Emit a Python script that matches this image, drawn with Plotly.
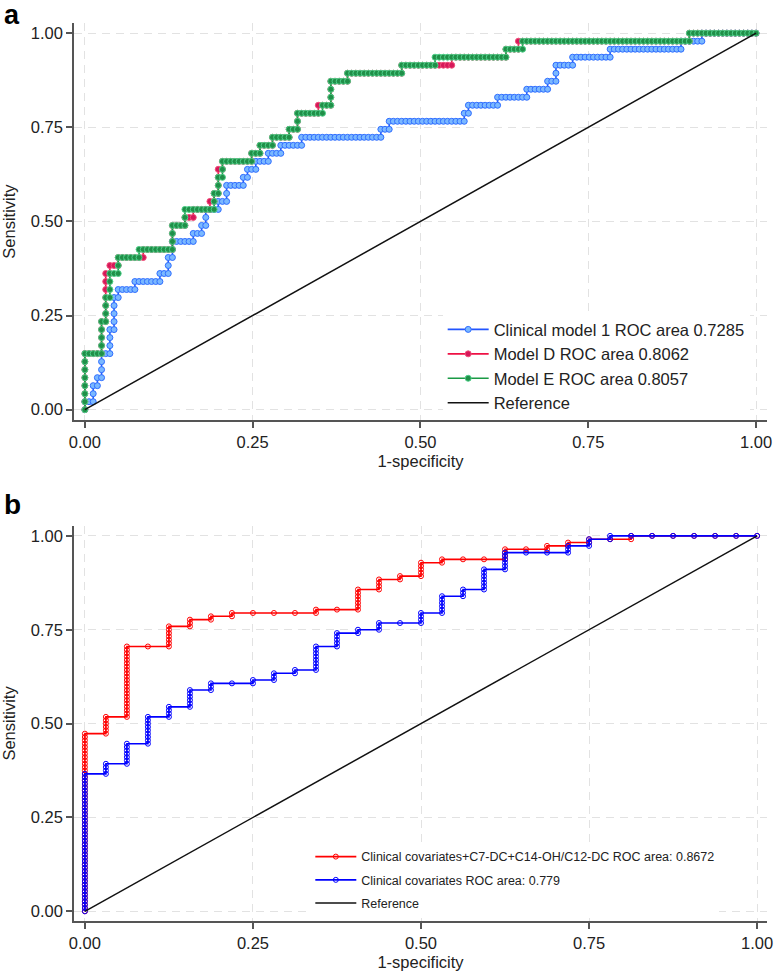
import plotly.graph_objects as go
from plotly.subplots import make_subplots

# ---------------- DATA ----------------
# ROC curves.
# Each curve = list of step points: at false-positive count FP[i] the curve
# rises to true-positive count TP[i] (counts of controls / cases).
A_N_CONTROLS = 161
A_N_CASES = 47

A_CLIN1_FP = [0, 2, 3, 4, 6, 7, 8, 12, 18, 20, 21, 26, 28, 29, 32, 34, 38, 39, 41, 44, 47, 52, 71, 73, 91, 92, 99, 106, 111, 113, 117, 126, 143, 148]
A_CLIN1_TP = [1, 3, 4, 7, 10, 14, 15, 16, 17, 19, 21, 22, 23, 25, 26, 28, 29, 30, 31, 32, 33, 34, 35, 36, 37, 38, 39, 40, 41, 43, 44, 45, 46, 47]

A_MODD_FP = [0, 4, 5, 6, 8, 14, 21, 24, 26, 30, 31, 32, 33, 40, 42, 45, 49, 51, 56, 59, 63, 76, 88, 101, 104, 145]
A_MODD_TP = [7, 11, 17, 18, 19, 20, 23, 24, 25, 26, 27, 30, 31, 32, 33, 34, 35, 37, 38, 41, 42, 43, 44, 45, 46, 47]

A_MODE_FP = [0, 4, 5, 6, 8, 13, 21, 24, 31, 32, 33, 40, 42, 45, 49, 51, 57, 59, 63, 76, 84, 101, 105, 145]
A_MODE_TP = [7, 11, 14, 17, 19, 20, 23, 25, 27, 29, 31, 32, 33, 34, 35, 37, 38, 41, 42, 43, 44, 45, 46, 47]

B_N_CONTROLS = 32
B_N_CASES = 112

B_FULL_FP = [0, 1, 2, 4, 5, 6, 7, 11, 13, 14, 15, 16, 17, 20, 22, 23, 24, 26]
B_FULL_TP = [53, 58, 79, 85, 87, 88, 89, 90, 96, 99, 100, 104, 105, 108, 109, 110, 111, 112]

B_CLIN_FP = [0, 1, 2, 3, 4, 5, 6, 8, 9, 10, 11, 12, 13, 14, 16, 17, 18, 19, 20, 23, 24, 25]
B_CLIN_TP = [41, 44, 50, 58, 61, 66, 68, 69, 71, 72, 79, 83, 84, 86, 89, 94, 96, 102, 107, 109, 111, 112]

A_NAMES = ["Clinical model 1 ROC area 0.7285", "Model D ROC area 0.8062",
           "Model E ROC area 0.8057", "Reference"]
B_NAMES = ["Clinical covariates+C7-DC+C14-OH/C12-DC ROC area: 0.8672",
           "Clinical covariates ROC area: 0.779", "Reference"]

TICK_VALS = [0, 0.25, 0.5, 0.75, 1.0]
TICK_TEXT = ["0.00", "0.25", "0.50", "0.75", "1.00"]
REF_X = [0, 1]
REF_Y = [0, 1]


def roc_points(fp_steps, tp_steps, n_ctrl, n_case):
    """Decode step list into every ROC operating point (one per subject)."""
    f, t = 0, 0
    pts = [(0, 0)]
    for sf, st in zip(fp_steps, tp_steps):
        while f < sf:
            f += 1
            pts.append((f, t))
        while t < st:
            t += 1
            pts.append((f, t))
    while f < n_ctrl:
        f += 1
        pts.append((f, t))
    return [p[0] / n_ctrl for p in pts], [p[1] / n_case for p in pts]


FONT = "Arial, Liberation Sans, Helvetica, sans-serif"

fig = make_subplots(rows=2, cols=1)

# ---- panel a ----
a_styles = [
    (A_CLIN1_FP, A_CLIN1_TP, "#2255ff", "#7ab8ff", "#2f6dff"),
    (A_MODD_FP, A_MODD_TP, "#ee1144", "#d6185a", "#f0507a"),
    (A_MODE_FP, A_MODE_TP, "#1a9a45", "#208f48", "#4fd08a"),
]
for (fp, tp, lc, mc, ml), name in zip(a_styles, A_NAMES[:3]):
    xs, ys = roc_points(fp, tp, A_N_CONTROLS, A_N_CASES)
    fig.add_trace(go.Scatter(
        x=xs, y=ys, mode="lines+markers", name=name, legend="legend",
        line=dict(color=lc, width=1.6),
        marker=dict(symbol="circle", size=6, color=mc, line=dict(color=ml, width=1)),
    ), row=1, col=1)
fig.add_trace(go.Scatter(x=REF_X, y=REF_Y, mode="lines", name=A_NAMES[3],
                         legend="legend",
                         line=dict(color="#111111", width=1.5)), row=1, col=1)

# ---- panel b ----
b_styles = [
    (B_FULL_FP, B_FULL_TP, "#ff0000"),
    (B_CLIN_FP, B_CLIN_TP, "#0000ff"),
]
for (fp, tp, c), name in zip(b_styles, B_NAMES[:2]):
    xs, ys = roc_points(fp, tp, B_N_CONTROLS, B_N_CASES)
    fig.add_trace(go.Scatter(
        x=xs, y=ys, mode="lines+markers", name=name, legend="legend2",
        legendgroup=name,
        line=dict(color=c, width=1.6),
        marker=dict(symbol="circle-open", size=5, color=c, line=dict(color=c, width=1)),
    ), row=2, col=1)
fig.add_trace(go.Scatter(x=REF_X, y=REF_Y, mode="lines", name=B_NAMES[2],
                         legend="legend2", legendgroup="refb",
                         line=dict(color="#111111", width=1.5)), row=2, col=1)

axis_common = dict(
    showline=True, linecolor="#555555", linewidth=1.5,
    ticks="outside", ticklen=6, tickwidth=1.5, tickcolor="#555555",
    tickvals=TICK_VALS, ticktext=TICK_TEXT,
    showgrid=True, gridcolor="#e2e2e2", gridwidth=1.3, griddash="8px,6px",
    zeroline=False, mirror=False,
    tickfont=dict(size=16.5, color="#222222", family=FONT),
)

fig.update_layout(
    width=780, height=976,
    margin=dict(l=74, r=7, t=23, b=53),
    plot_bgcolor="white", paper_bgcolor="white",
    font=dict(family=FONT, color="#222222"),
    xaxis=dict(domain=[0, 1], range=[-0.0162, 1.0163], anchor="y",
               title=dict(text="1-specificity", font=dict(size=16.5), standoff=6),
               **axis_common),
    yaxis=dict(domain=[0.5578, 1], range=[-0.0276, 1.027], anchor="x",
               title=dict(text="Sensitivity", font=dict(size=16.5), standoff=12),
               **axis_common),
    xaxis2=dict(domain=[0, 1], range=[-0.0162, 1.0147], anchor="y2",
                title=dict(text="1-specificity", font=dict(size=16.5), standoff=6),
                **axis_common),
    yaxis2=dict(domain=[0, 0.44], range=[-0.0258, 1.0266], anchor="x2",
                title=dict(text="Sensitivity", font=dict(size=16.5), standoff=12),
                **axis_common),
    legend=dict(x=0.532, y=0.678, xanchor="left", yanchor="top",
                bgcolor="white", borderwidth=0,
                font=dict(size=16.5, color="#222222"),
                tracegroupgap=0, itemwidth=41),
    legend2=dict(x=0.341, y=0.088, xanchor="left", yanchor="top",
                 bgcolor="white", borderwidth=0,
                 font=dict(size=12.5, color="#222222"),
                 traceorder="grouped", tracegroupgap=4, itemwidth=41),
    annotations=[
        dict(text="<b>a</b>", x=-0.104, y=1.028, xref="paper", yref="paper",
             xanchor="left", yanchor="top", showarrow=False,
             font=dict(size=27, color="#000000", family=FONT)),
        dict(text="<b>b</b>", x=-0.104, y=0.4833, xref="paper", yref="paper",
             xanchor="left", yanchor="top", showarrow=False,
             font=dict(size=28, color="#000000", family=FONT)),
    ],
)

fig.write_html("out.html", config={"displayModeBar": False},
               post_script="document.body.style.margin='0';")
